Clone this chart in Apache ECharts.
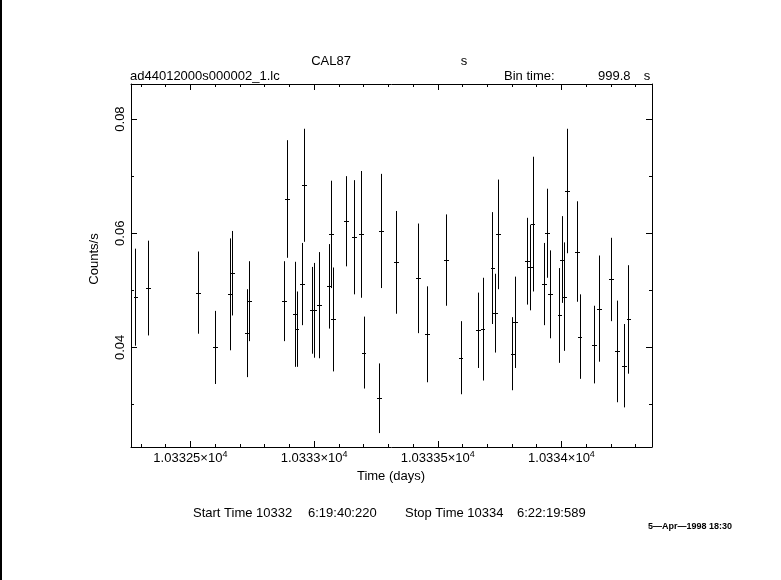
<!DOCTYPE html>
<html>
<head>
<meta charset="utf-8">
<script src="https://cdn.jsdelivr.net/npm/echarts@6/dist/echarts.min.js"></script>
<style>
html,body{margin:0;padding:0;background:#fff;}
#chart{width:781px;height:580px;}
</style>
</head>
<body>
<div id="chart"></div>
<script>
// Bin centres (days), count rates (counts/s) and 1-sigma errors
const times = [10332.278, 10332.328, 10332.530, 10332.600, 10332.659, 10332.670, 10332.729, 10332.739,
  10332.879, 10332.890, 10332.921, 10332.929, 10332.950, 10332.961, 10332.991, 10333.001,
  10333.019, 10333.060, 10333.069, 10333.078, 10333.130, 10333.161, 10333.190, 10333.200,
  10333.262, 10333.270, 10333.331, 10333.420, 10333.458, 10333.533, 10333.592, 10333.662,
  10333.681, 10333.721, 10333.733, 10333.743, 10333.802, 10333.812, 10333.862, 10333.872,
  10333.883, 10333.930, 10333.942, 10333.953, 10333.992, 10334.002, 10334.011, 10334.022,
  10334.062, 10334.073, 10334.132, 10334.153, 10334.202, 10334.223, 10334.253, 10334.271];
const rates = [0.0488, 0.0504, 0.0496, 0.0400, 0.0493, 0.0530, 0.0425, 0.0481,
  0.0481, 0.0660, 0.0458, 0.0432, 0.0511, 0.0684, 0.0465, 0.0465,
  0.0474, 0.0507, 0.0598, 0.0449, 0.0621, 0.0593, 0.0598, 0.0391,
  0.0311, 0.0604, 0.0549, 0.0521, 0.0423, 0.0553, 0.0382, 0.0430,
  0.0432, 0.0539, 0.0460, 0.0598, 0.0389, 0.0444, 0.0551, 0.0540,
  0.0616, 0.0511, 0.0600, 0.0493, 0.0456, 0.0554, 0.0489, 0.0674,
  0.0568, 0.0419, 0.0405, 0.0468, 0.0519, 0.0393, 0.0368, 0.0449];
const errors = [0.0085, 0.0083, 0.0072, 0.0064, 0.0098, 0.0074, 0.0077, 0.0070,
  0.0070, 0.0103, 0.0092, 0.0066, 0.0072, 0.0099, 0.0076, 0.0083,
  0.0093, 0.0074, 0.0094, 0.0091, 0.0079, 0.0100, 0.0111, 0.0063,
  0.0061, 0.0100, 0.0090, 0.0096, 0.0084, 0.0080, 0.0064, 0.0066,
  0.0090, 0.0098, 0.0069, 0.0096, 0.0064, 0.0080, 0.0076, 0.0075,
  0.0118, 0.0072, 0.0078, 0.0077, 0.0083, 0.0076, 0.0095, 0.0109,
  0.0088, 0.0074, 0.0068, 0.0093, 0.0073, 0.0089, 0.0073, 0.0095];
const binTimeSec = 999.8;

// Axis ranges and ticks
const xRange = [10332.26, 10334.366];
const yRange = [0.02256, 0.08614];
const majorXTicks = [10332.5, 10333, 10333.5, 10334];
const minorXTicks = [10332.3, 10332.4, 10332.6, 10332.7, 10332.8, 10332.9,
  10333.1, 10333.2, 10333.3, 10333.4, 10333.6, 10333.7, 10333.8, 10333.9,
  10334.1, 10334.2, 10334.3];
const majorYTicks = [0.04, 0.06, 0.08];
const minorYTicks = [0.03, 0.05, 0.07];

// Texts
const plotTitle = 'CAL87';
const titleUnit = 's';
const fileName = 'ad44012000s000002_1.lc';
const binLabel = 'Bin time:';
const binValue = '999.8';
const binUnit = 's';
const xName = 'Time (days)';
const yName = 'Counts/s';
const startLabel = 'Start Time 10332';
const startClock = '6:19:40:220';
const stopLabel = 'Stop Time 10334';
const stopClock = '6:22:19:589';
const dateStamp = '5\u2014Apr\u20141998 18:30';

const FONT = 'Liberation Sans';
const halfBin = binTimeSec / 86400 / 2;
const seriesData = times.map((t, i) => [t, rates[i], errors[i]]);

function fmtX(v) {
  let m = (v / 1e4).toFixed(6).replace(/0+$/, '').replace(/\.$/, '');
  return m + '\u00d710{sup|4}';
}

const chart = echarts.init(document.getElementById('chart'), null, {renderer: 'canvas'});
const grid = {left: 131, right: 129, top: 84, bottom: 133, containLabel: false};
const lineStyle = {color: '#000', width: 1};

function xAx(pos, ticks, len, showLine, showLabel) {
  return {
    type: 'value', position: pos, min: xRange[0], max: xRange[1], gridIndex: 0,
    axisLine: {show: showLine, onZero: false, lineStyle: lineStyle},
    axisTick: {show: true, inside: true, length: len, customValues: ticks, lineStyle: lineStyle},
    axisLabel: showLabel ? {
      show: true, customValues: ticks, margin: 3, color: '#000',
      formatter: fmtX,
      rich: {
        sup: {fontSize: 9, fontFamily: FONT, color: '#000', verticalAlign: 'top', lineHeight: 16, padding: [0, 0, 8, 0]}
      },
      fontSize: 13, fontFamily: FONT, lineHeight: 16
    } : {show: false},
    splitLine: {show: false}
  };
}
function yAx(pos, ticks, len, showLine, showLabel) {
  return {
    type: 'value', position: pos, min: yRange[0], max: yRange[1], gridIndex: 0,
    axisLine: {show: showLine, onZero: false, lineStyle: lineStyle},
    axisTick: {show: true, inside: true, length: len, customValues: ticks, lineStyle: lineStyle},
    axisLabel: showLabel ? {
      show: true, customValues: ticks, rotate: 90, margin: 4, color: '#000',
      fontSize: 13, fontFamily: FONT,
      formatter: v => v.toFixed(2)
    } : {show: false},
    splitLine: {show: false}
  };
}

const option = {
  backgroundColor: '#fff',
  animation: false,
  grid: grid,
  xAxis: [
    xAx('bottom', majorXTicks, 6, true, true),
    xAx('bottom', minorXTicks, 3, false, false),
    xAx('top', majorXTicks, 6, true, false),
    xAx('top', minorXTicks, 3, false, false)
  ],
  yAxis: [
    yAx('left', majorYTicks, 6, true, true),
    yAx('left', minorYTicks, 3, false, false),
    yAx('right', majorYTicks, 6, true, false),
    yAx('right', minorYTicks, 3, false, false)
  ],
  series: [{
    type: 'custom',
    xAxisIndex: 0, yAxisIndex: 0,
    encode: {x: 0, y: 1},
    data: seriesData,
    silent: true,
    renderItem: function (params, api) {
      const t = api.value(0), r = api.value(1), e = api.value(2);
      const top = api.coord([t, r + e]);
      const bot = api.coord([t, r - e]);
      const left = api.coord([t - halfBin, r]);
      const right = api.coord([t + halfBin, r]);
      const cx = Math.round(top[0]) + 0.5;
      const cy = Math.round(left[1]) + 0.5;
      return {
        type: 'group',
        children: [
          {type: 'line', shape: {x1: cx, y1: top[1], x2: cx, y2: bot[1]}, style: {stroke: '#000', lineWidth: 1}},
          {type: 'line', shape: {x1: Math.floor(left[0]), y1: cy, x2: Math.ceil(right[0]) + 1, y2: cy}, style: {stroke: '#000', lineWidth: 1}}
        ]
      };
    }
  }],
  graphic: [
    {type: 'rect', left: 0, top: 0, shape: {x: 0, y: 0, width: 2, height: 580}, style: {fill: '#000'}},
    {type: 'text', x: 331, y: 61, style: {text: plotTitle, font: '13px ' + FONT, fill: '#000', align: 'center', verticalAlign: 'middle'}},
    {type: 'text', x: 464, y: 61, style: {text: titleUnit, font: '13px ' + FONT, fill: '#000', align: 'center', verticalAlign: 'middle'}},
    {type: 'text', x: 130, y: 76, style: {text: fileName, font: '13px ' + FONT, fill: '#000', align: 'left', verticalAlign: 'middle'}},
    {type: 'text', x: 504, y: 76, style: {text: binLabel, font: '13px ' + FONT, fill: '#000', align: 'left', verticalAlign: 'middle'}},
    {type: 'text', x: 598, y: 76, style: {text: binValue, font: '13px ' + FONT, fill: '#000', align: 'left', verticalAlign: 'middle'}},
    {type: 'text', x: 647, y: 76, style: {text: binUnit, font: '13px ' + FONT, fill: '#000', align: 'center', verticalAlign: 'middle'}},
    {type: 'text', x: 391, y: 476, style: {text: xName, font: '13px ' + FONT, fill: '#000', align: 'center', verticalAlign: 'middle'}},
    {type: 'text', x: 94, y: 259, rotation: Math.PI / 2, style: {text: yName, font: '13px ' + FONT, fill: '#000', align: 'center', verticalAlign: 'middle'}},
    {type: 'text', x: 193, y: 513, style: {text: startLabel, font: '13px ' + FONT, fill: '#000', align: 'left', verticalAlign: 'middle'}},
    {type: 'text', x: 308, y: 513, style: {text: startClock, font: '13px ' + FONT, fill: '#000', align: 'left', verticalAlign: 'middle'}},
    {type: 'text', x: 405, y: 513, style: {text: stopLabel, font: '13px ' + FONT, fill: '#000', align: 'left', verticalAlign: 'middle'}},
    {type: 'text', x: 517, y: 513, style: {text: stopClock, font: '13px ' + FONT, fill: '#000', align: 'left', verticalAlign: 'middle'}},
    {type: 'text', x: 648, y: 527, style: {text: dateStamp, font: 'bold 9px ' + FONT, fill: '#000', align: 'left', verticalAlign: 'middle'}}
  ]
};
chart.setOption(option);
</script>
</body>
</html>
